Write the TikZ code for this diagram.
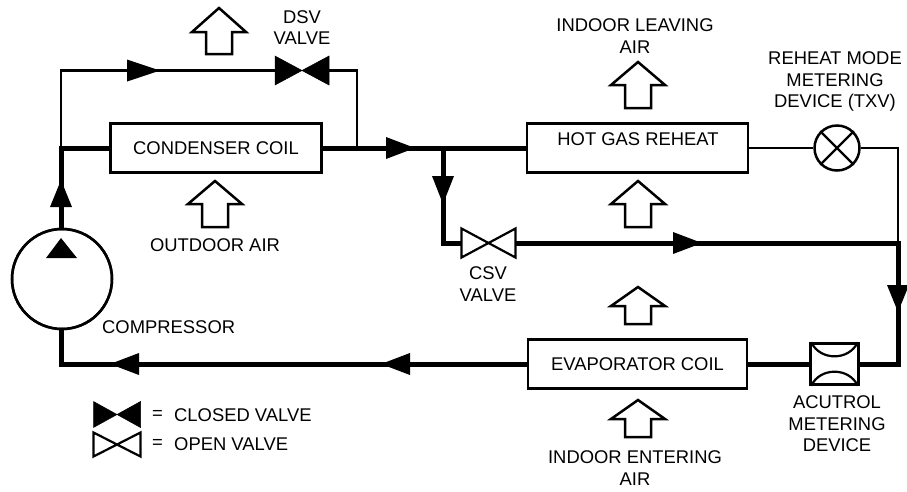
\documentclass[tikz,border=0pt]{standalone}
\usepackage{fontspec}
\setmainfont{Liberation Sans}
\newcommand{\flowtip}[4][29]{\fill[black,shift={(#2,#3)},rotate=#4] (-#1,-11) -- (0,0) -- (-#1,11) -- cycle;}
\newcommand{\airup}[4]{\draw[airstyle] (#1,#2) -- (#1+27,#3) -- (#1+13,#3) -- (#1+13,#4) -- (#1-13,#4) -- (#1-13,#3) -- (#1-27,#3) -- cycle;}
\newcommand{\valveshape}[2]{\draw[#2] (#1.north west) -- (#1.south east) -- (#1.north east) -- (#1.south west) -- cycle;}
\begin{document}
\begin{tikzpicture}[x=1pt,y=-1pt,
  thickline/.style={line width=5pt,line join=miter},
  thinline/.style={line width=2.2pt,line join=miter},
  coil/.style={draw,fill=white,line width=2.8pt,inner sep=0pt,minimum height=49pt},
  label/.style={inner sep=0pt,align=center,font=\fontsize{18.4}{21.4}\selectfont},
  airstyle/.style={draw,fill=white,line width=2.5pt,line join=miter},
  valvebox/.style={inner sep=0pt,outer sep=0pt,minimum width=#1},
  closedv/.style={fill=black,draw=black,line width=0.5pt,line join=miter},
  openv/.style={fill=white,draw=black,line width=2.2pt,line join=miter}]
\useasboundingbox (0,0) rectangle (907,491);
% Named components
\node[coil,minimum width=211pt] (cond) at (216,148) {};
\node[coil,minimum width=221pt] (reheat) at (637.5,148) {};
\node[coil,minimum width=219pt] (evap) at (637.5,364) {};
\node[draw,circle,fill=white,line width=2.5pt,inner sep=0pt,minimum size=100pt] (comp) at (62,279) {};
\node[draw,circle,fill=white,line width=2.5pt,inner sep=0pt,minimum size=45pt] (txv) at (837,148) {};
\node[draw,rectangle,fill=white,line width=2.5pt,inner sep=0pt,minimum width=48pt,minimum height=41pt] (acu) at (834.5,364) {};
\node[valvebox=54pt,minimum height=29pt] (dsv) at (302,70.5) {};
\node[valvebox=54pt,minimum height=29pt] (csv) at (488.5,243) {};
\node[valvebox=47pt,minimum height=26pt] (legc) at (117,414.5) {};
\node[valvebox=47pt,minimum height=24pt] (lego) at (117,444.5) {};
% Junctions
\coordinate (jleft) at (61,148);
\coordinate (jright) at (357,148);
\coordinate (jcsv) at (443,148);
\coordinate (bl) at (61,364);
\coordinate (tl) at (61,70.5);
\coordinate (tr) at (357,70.5);
\coordinate (rb) at (898,364);
\coordinate (rm) at (898,243);
\coordinate (rt) at (898,148);
\coordinate (cc) at (443,243);
% Thin lines
\draw[thinline] (jleft) -- (tl) -- (dsv.west);
\draw[thinline] (dsv.east) -- (tr) -- (jright);
\draw[thinline] (reheat.east) -- (txv.west);
\draw[thinline] (txv.east) -- (rt) -- (rm);
% Thick lines
\draw[thickline] (comp.north -| jleft) -- (jleft) -- (cond.west);
\draw[thickline] (cond.east) -- (reheat.west);
\draw[thickline] (jcsv) -- (cc) -- (csv.west);
\draw[thickline] (csv.east) -- (rm);
\draw[thickline] (898,241) -- (rb) -- (acu.east);
\draw[thickline] (acu.west) -- (evap.east);
\draw[thickline] (evap.west) -- (bl) -- (comp.south -| bl);
% Redraw nodes above lines
\node[coil,minimum width=211pt] at (cond) {};
\node[coil,minimum width=221pt] at (reheat) {};
\node[coil,minimum width=219pt] at (evap) {};
\draw[line width=2.5pt] (comp) circle (50pt);
\draw[thinline] (txv.45) -- (txv.225) (txv.135) -- (txv.315);
\draw[line width=2.2pt] (acu.north west) ++(2,0) .. controls (820,361) and (849,361) .. ([xshift=-2pt]acu.north east);
\draw[line width=2.2pt] (acu.south west) ++(2,0) .. controls (820,367) and (849,367) .. ([xshift=-2pt]acu.south east);
% Valves
\valveshape{dsv}{closedv}
\valveshape{csv}{openv}
\valveshape{legc}{closedv}
\valveshape{lego}{openv}
% Flow arrowheads
\flowtip[33]{160}{70.5}{0}
\flowtip{415}{148}{0}
\flowtip{702}{243}{0}
\flowtip[28]{443}{204}{-90}
\flowtip[27]{898}{312}{-90}
\flowtip[27]{61}{180}{90}
\fill[black] (61,238) -- (77,258) -- (46,258) -- cycle;
\flowtip{110}{364}{180}
\flowtip{381}{364}{180}
% Air arrows
\airup{219}{8}{32}{54}
\airup{215}{181}{204}{227}
\airup{638}{62}{85}{108}
\airup{638}{181}{204}{227}
\airup{638}{287}{306}{324}
\airup{638}{400}{419}{437}
% Labels
\node[label] (tcond) at (cond) {CONDENSER COIL};
\node[label] (theat) at (638,139) {HOT GAS REHEAT};
\node[label] (tevap) at (evap) {EVAPORATOR COIL};
\node[label] (tdsv) at (302,27.5) {DSV\\VALVE};
\node[label] (tout) at (215,245) {OUTDOOR AIR};
\node[label] (tleav) at (635,36) {INDOOR LEAVING\\AIR};
\node[label] (ttxv) at (835,81.5) {REHEAT MODE\\METERING\\DEVICE (TXV)};
\node[label] (tcsv) at (488,284) {CSV\\VALVE};
\node[label,anchor=west] (tcomp) at (102,327) {COMPRESSOR};
\node[label] (tacu) at (837,424) {ACUTROL\\METERING\\DEVICE};
\node[label] (tent) at (635,468) {INDOOR ENTERING\\AIR};
\node[label,anchor=west] (e1) at (152,415) {=};
\node[label,anchor=west] (e2) at (152,444) {=};
\node[label,anchor=west] (tclosed) at (174,415) {CLOSED VALVE};
\node[label,anchor=west] (topen) at (174,444) {OPEN VALVE};
\end{tikzpicture}
\end{document}
